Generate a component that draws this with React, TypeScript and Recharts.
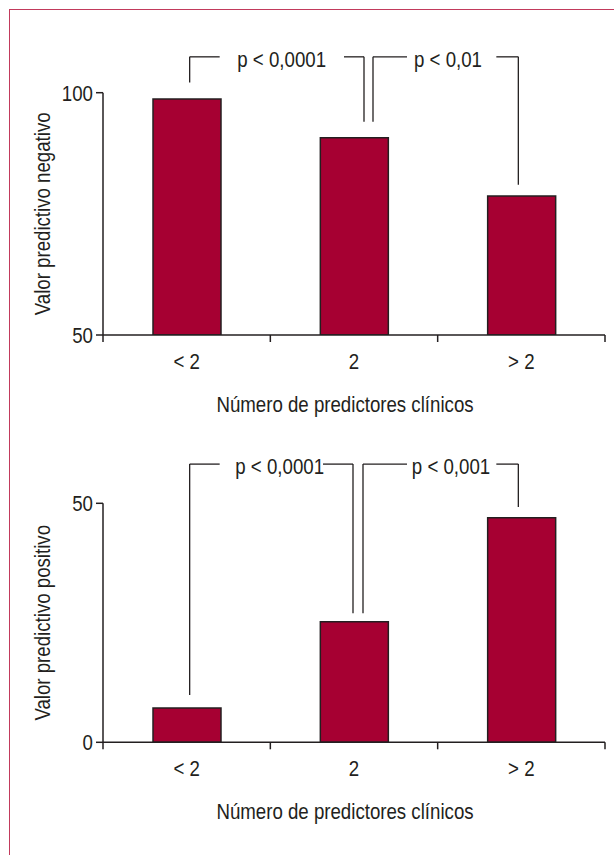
import { BarChart, Bar, XAxis, YAxis, ReferenceLine, Label } from 'recharts';

const categories = ['< 2', '2', '> 2'];
const negativeValues = [98.7, 90.7, 78.7];
const positiveValues = [7.2, 25.2, 47.0];
const negativeTicks = [50, 100];
const positiveTicks = [0, 50];
const negativeTitle = 'Valor predictivo negativo';
const positiveTitle = 'Valor predictivo positivo';
const xTitle = 'Número de predictores clínicos';

// comparisons: bracket top and where each leg stops, in axis units
const negativeBrackets = [
  { from: '< 2', to: '2', top: 107.4, leftEnd: 102.1, rightEnd: 94.0, text: 'p < 0,0001' },
  { from: '2', to: '> 2', top: 107.4, leftEnd: 94.0, rightEnd: 81.0, text: 'p < 0,01' },
];
const positiveBrackets = [
  { from: '< 2', to: '2', top: 58.2, leftEnd: 9.9, rightEnd: 27.0, text: 'p < 0,0001' },
  { from: '2', to: '> 2', top: 58.2, leftEnd: 27.0, rightEnd: 49.2, text: 'p < 0,001' },
];

// pixel tweaks for the bracket drawing (leg offsets from bar centre, gap around the text)
const negativeLayout = [
  { dxL: 3, dxR: 10, legL: 30, legR: 20, textDx: 92 },
  { dxL: 19, dxR: -3, legL: 34, legR: 22, textDx: 75 },
];
const positiveLayout = [
  { dxL: 3, dxR: -1, legL: 30, legR: 30, textDx: 90 },
  { dxL: 9, dxR: -3, legL: 44, legR: 22, textDx: 88 },
];

// no narrow face installed, so squeeze Liberation Sans horizontally
const FONT = "'Liberation Sans', Arial, sans-serif";
const SQUEEZE = 0.83;
const INK = '#231f20';
const BAR = '#a60032';
const FS = 22.5;

function NText({ x, y, anchor = 'middle', rotate = false, baseline, children }: any) {
  const t = `translate(${x},${y})${rotate ? ' rotate(-90)' : ''} scale(${SQUEEZE},1)`;
  return (
    <text transform={t} textAnchor={anchor} dominantBaseline={baseline} fill={INK} fontSize={FS} fontFamily={FONT}>
      {children}
    </text>
  );
}

function CatTick(props: any) {
  const { x, y, payload, index, visibleTicksCount, width } = props;
  const half = payload.offset || width / visibleTicksCount / 2;
  return (
    <g>
      <line x1={x - half} y1={y} x2={x - half} y2={y + 7} stroke={INK} strokeWidth={1.5} />
      {index === visibleTicksCount - 1 && (
        <line x1={x + half} y1={y} x2={x + half} y2={y + 7} stroke={INK} strokeWidth={1.5} />
      )}
      <NText x={x} y={y + 34}>
        {payload.value}
      </NText>
    </g>
  );
}

function Panel({ values, ticks, domain, title, brackets, layout, top, marginTop, plotHeight }: any) {
  const data = categories.map((c, i) => ({ cat: c, value: values[i] }));
  const axisH = 95;
  return (
    <div style={{ position: 'absolute', left: 0, top }}>
      <BarChart
        width={614}
        height={marginTop + plotHeight + axisH}
        data={data}
        margin={{ top: marginTop, right: 9, left: 0, bottom: 0 }}
        barSize={68}
      >
        <XAxis
          dataKey="cat"
          height={axisH}
          interval={0}
          tickLine={false}
          tickSize={0}
          tickMargin={0}
          axisLine={{ stroke: INK, strokeWidth: 1.5 }}
          tick={(p: any) => <CatTick {...p} />}
        >
          <Label
            content={(p: any) => {
              const vb = p.viewBox;
              return (
                <NText x={vb.x + vb.width / 2 - 9} y={vb.y + 77}>
                  {xTitle}
                </NText>
              );
            }}
          />
        </XAxis>
        <YAxis
          type="number"
          domain={domain}
          ticks={ticks}
          allowDataOverflow
          interval={0}
          width={103}
          tickSize={7}
          tickMargin={3}
          axisLine={{ stroke: INK, strokeWidth: 1.5 }}
          tickLine={{ stroke: INK, strokeWidth: 1.5 }}
          tick={(p: any) => (
            <NText x={p.x} y={p.y} anchor="end" baseline="central">
              {p.payload.value}
            </NText>
          )}
        >
          <Label
            content={(p: any) => {
              const vb = p.viewBox;
              return (
                <NText x={42} y={vb.y + vb.height / 2} rotate baseline="central">
                  {title}
                </NText>
              );
            }}
          />
        </YAxis>
        <Bar dataKey="value" fill={BAR} stroke={INK} strokeWidth={1.5} isAnimationActive={false} />
        {brackets.map((b: any, i: number) => {
          const lay = layout[i];
          return [
            <ReferenceLine
              key={`l${i}`}
              ifOverflow="visible"
              segment={[{ x: b.from, y: b.leftEnd }, { x: b.from, y: b.top }]}
              shape={(s: any) => (
                <line x1={s.x1 + lay.dxL} y1={s.y1} x2={s.x2 + lay.dxL} y2={s.y2} stroke={INK} strokeWidth={1.3} />
              )}
            />,
            <ReferenceLine
              key={`r${i}`}
              ifOverflow="visible"
              segment={[{ x: b.to, y: b.rightEnd }, { x: b.to, y: b.top }]}
              shape={(s: any) => (
                <line x1={s.x1 + lay.dxR} y1={s.y1} x2={s.x2 + lay.dxR} y2={s.y2} stroke={INK} strokeWidth={1.3} />
              )}
            />,
            <ReferenceLine
              key={`t${i}`}
              ifOverflow="visible"
              segment={[{ x: b.from, y: b.top }, { x: b.to, y: b.top }]}
              shape={(s: any) => {
                const xl = s.x1 + lay.dxL;
                const xr = s.x2 + lay.dxR;
                const y = s.y1;
                return (
                  <g>
                    <line x1={xl} y1={y} x2={xl + lay.legL} y2={y} stroke={INK} strokeWidth={1.3} />
                    <line x1={xr - lay.legR} y1={y} x2={xr} y2={y} stroke={INK} strokeWidth={1.3} />
                    <NText x={xl + lay.textDx} y={y + 10}>
                      {b.text}
                    </NText>
                  </g>
                );
              }}
            />,
          ];
        })}
      </BarChart>
    </div>
  );
}

export default function App() {
  return (
    <div
      style={{
        position: 'absolute',
        left: 0,
        top: 0,
        width: 614,
        height: 855,
        overflow: 'hidden',
        background: '#fff',
      }}
    >
      <div
        style={{
          position: 'absolute',
          left: 9,
          top: 9,
          width: 700,
          height: 900,
          border: '1.5px solid #c23a5c',
        }}
      />
      <Panel
        values={negativeValues}
        ticks={negativeTicks}
        domain={[50, 100]}
        title={negativeTitle}
        brackets={negativeBrackets}
        layout={negativeLayout}
        top={0}
        marginTop={92.7}
        plotHeight={242.3}
      />
      <Panel
        values={positiveValues}
        ticks={positiveTicks}
        domain={[0, 50]}
        title={positiveTitle}
        brackets={positiveBrackets}
        layout={positiveLayout}
        top={430}
        marginTop={73.3}
        plotHeight={239}
      />
    </div>
  );
}
